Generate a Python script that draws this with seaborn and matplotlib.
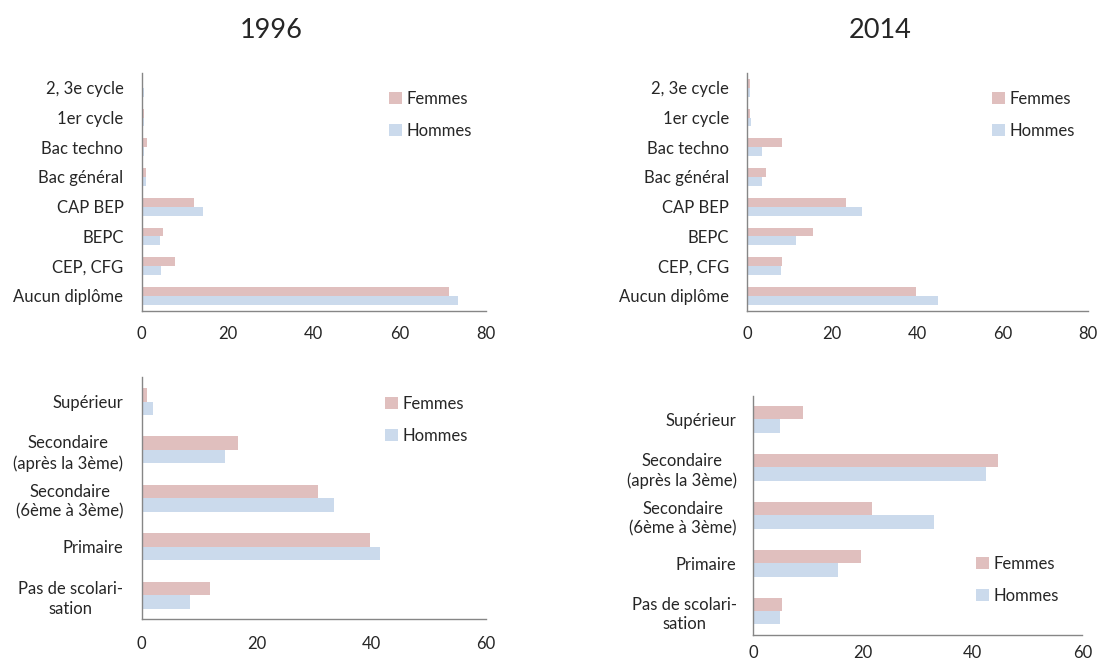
import pandas as pd
import numpy as np
import seaborn as sns
import matplotlib.pyplot as plt
from matplotlib.ticker import FixedLocator

# Diplômes (haut)
diplomes = ['2, 3e cycle', '1er cycle', 'Bac techno', 'Bac général',
            'CAP BEP', 'BEPC', 'CEP, CFG', 'Aucun diplôme']
femmes_1996_dip = [0.1, 0.5, 1.3, 1.0, 12.1, 5.1, 7.7, 71.3]
hommes_1996_dip = [0.5, 0.5, 0.5, 1.0, 14.3, 4.2, 4.5, 73.4]
femmes_2014_dip = [0.6, 0.6, 8.2, 4.4, 23.2, 15.5, 8.3, 39.6]
hommes_2014_dip = [0.6, 0.9, 3.5, 3.5, 27.0, 11.4, 7.9, 44.9]

# Niveau de scolarisation (bas)
niveaux = ['Supérieur', 'Secondaire\n(après la 3ème)', 'Secondaire\n(6ème à 3ème)',
           'Primaire', 'Pas de scolari-\nsation']
femmes_1996_niv = [1.0, 16.8, 30.7, 39.8, 12.0]
hommes_1996_niv = [2.0, 14.6, 33.5, 41.6, 8.5]
femmes_2014_niv = [9.0, 44.6, 21.6, 19.6, 5.3]
hommes_2014_niv = [4.8, 42.4, 32.9, 15.4, 4.8]

titres = ['1996', '2014']
sexes = ['Femmes', 'Hommes']
couleurs = {'Femmes': '#E6B9B8', 'Hommes': '#C6D9F1'}


def make_df(cats, femmes, hommes):
    return pd.DataFrame({
        'cat': cats * 2,
        'val': femmes + hommes,
        'sexe': ['Femmes'] * len(cats) + ['Hommes'] * len(cats),
    })


def draw_panel(ax, df, cats, xmax, width, ypad, xpad, legend_pos):
    sns.barplot(data=df, y='cat', x='val', hue='sexe', order=cats,
                hue_order=sexes, palette=couleurs, width=width,
                orient='h', ax=ax, linewidth=0, legend=True)
    ax.set_xlim(0, xmax)
    ax.set_ylim(len(cats) - 0.5, -0.5)
    ax.set_xticks(np.arange(0, xmax + 1, 20))
    ax.set_xlabel('')
    ax.set_ylabel('')
    for s in ['top', 'right']:
        ax.spines[s].set_visible(False)
    for s in ['left', 'bottom']:
        ax.spines[s].set_color('#868686')
        ax.spines[s].set_linewidth(1.0)
    ax.tick_params(axis='y', which='major', length=0, pad=ypad, labelsize=12)
    ax.yaxis.set_minor_locator(FixedLocator(np.arange(-0.5, len(cats), 1)))
    ax.tick_params(axis='y', which='minor', length=4, color='#868686', width=1.0)
    ax.tick_params(axis='x', length=4, color='#868686', width=1.0, pad=xpad, labelsize=12)
    for lab in ax.get_yticklabels():
        lab.set_multialignment('center')
        lab.set_linespacing(1.3)
    ax.grid(False)
    handles, labels = ax.get_legend_handles_labels()
    ax.legend(handles, labels, frameon=False, loc='upper left',
              bbox_to_anchor=legend_pos, bbox_transform=ax.figure.transFigure,
              borderaxespad=0, borderpad=0, handlelength=0.75, handleheight=0.75,
              handletextpad=0.3, labelspacing=0.95, fontsize=12)


sns.set_style('white')
plt.rcParams['font.family'] = ['Lato', 'DejaVu Sans']

fig = plt.figure(figsize=(10.98, 6.64), dpi=100)
W, H = 1098, 664

ax_tl = fig.add_axes([141.5 / W, 1 - 310.7 / H, 344.5 / W, 237.7 / H])
ax_tr = fig.add_axes([747 / W, 1 - 310.7 / H, 340.7 / W, 237.7 / H])
ax_bl = fig.add_axes([141.5 / W, 1 - 619.4 / H, 344.5 / W, 242.1 / H])
ax_br = fig.add_axes([753.3 / W, 1 - 635 / H, 329 / W, 239.5 / H])

draw_panel(ax_tl, make_df(diplomes, femmes_1996_dip, hommes_1996_dip), diplomes,
           80, 0.6, 13, 7, (389 / W, 1 - 91 / H))
draw_panel(ax_tr, make_df(diplomes, femmes_2014_dip, hommes_2014_dip), diplomes,
           80, 0.6, 13, 7, (992 / W, 1 - 91 / H))
draw_panel(ax_bl, make_df(niveaux, femmes_1996_niv, hommes_1996_niv), niveaux,
           60, 0.56, 13, 8, (385 / W, 1 - 396 / H))
draw_panel(ax_br, make_df(niveaux, femmes_2014_niv, hommes_2014_niv), niveaux,
           60, 0.56, 12, 3.5, (976 / W, 1 - 556 / H))

fig.text(271 / W, 1 - 30 / H, titres[0], ha='center', va='center', fontsize=19.5)
fig.text(880 / W, 1 - 30 / H, titres[1], ha='center', va='center', fontsize=19.5)

fig.savefig('out.png', dpi=100)
